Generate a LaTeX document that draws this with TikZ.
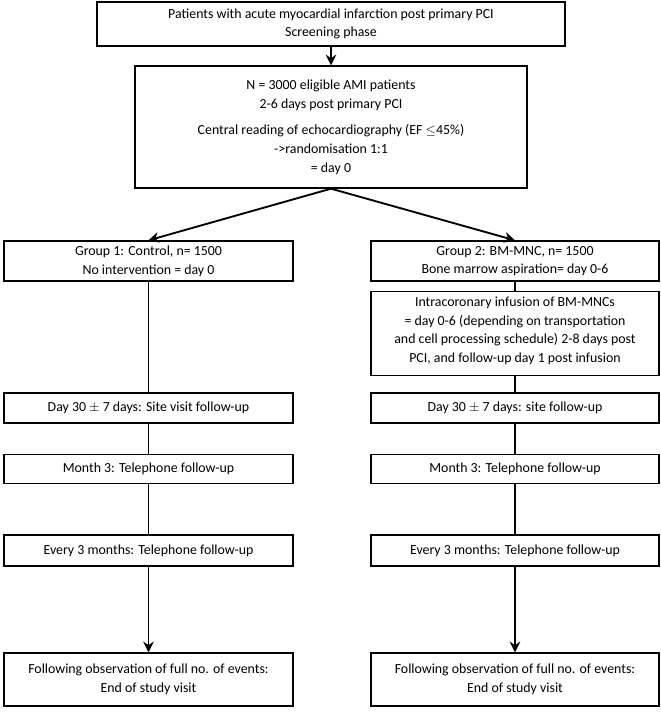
\documentclass[tikz,border=0pt]{standalone}
\usepackage{fontspec}
\setmainfont{Carlito}
\usetikzlibrary{arrows.meta}
\begin{document}
\begin{tikzpicture}[x=0.75pt,y=-0.75pt,
  box/.style={draw,line width=1pt,align=center,font=\fontsize{10.4}{14}\selectfont,inner sep=0pt},
  ln/.style={line width=1.4pt},
  ar/.style={line width=1.4pt,-{Stealth[length=8pt,width=8pt]}}]
\useasboundingbox (0,0) rectangle (661,715);
\node[box,minimum width=468*0.75pt,minimum height=44*0.75pt] (top) at (331,24) {Patients with acute myocardial infarction post primary PCI\\Screening phase};
\node[box,minimum width=392*0.75pt,minimum height=122*0.75pt] (n) at (331,127) {N = 3000 eligible AMI patients\\2-6 days post primary PCI\\[6pt]Central reading of echocardiography (EF $\le$45\%)\\->randomisation 1:1\\= day 0};
\node[box,minimum width=289*0.75pt,minimum height=40*0.75pt] (g1) at (148.5,261) {Group 1: Control, n= 1500\\No intervention = day 0};
\node[box,minimum width=288*0.75pt,minimum height=40*0.75pt] (g2) at (515,261) {Group 2: BM-MNC, n= 1500\\Bone marrow aspiration= day 0-6};
\node[box,minimum width=288*0.75pt,minimum height=84*0.75pt,anchor=north,text depth=6pt] (ic) at (515,291) {Intracoronary infusion of BM-MNCs\\= day 0-6 (depending on transportation\\and cell processing schedule) 2-8 days post\\PCI, and follow-up day 1 post infusion};
\node[box,minimum width=289*0.75pt,minimum height=30*0.75pt] (d1) at (148.5,408) {Day 30 $\pm$ 7 days: Site visit follow-up};
\node[box,minimum width=288*0.75pt,minimum height=30*0.75pt] (d2) at (515,408) {Day 30 $\pm$ 7 days: site follow-up};
\node[box,minimum width=289*0.75pt,minimum height=29*0.75pt] (m1) at (148.5,469) {Month 3: Telephone follow-up};
\node[box,minimum width=288*0.75pt,minimum height=29*0.75pt] (m2) at (515,469) {Month 3: Telephone follow-up};
\node[box,minimum width=289*0.75pt,minimum height=31*0.75pt] (e1) at (148.5,550.5) {Every 3 months: Telephone follow-up};
\node[box,minimum width=288*0.75pt,minimum height=31*0.75pt] (e2) at (515,550.5) {Every 3 months: Telephone follow-up};
\node[box,minimum width=289*0.75pt,minimum height=53*0.75pt] (f1) at (148.5,679.5) {Following observation of full no. of events:\\End of study visit};
\node[box,minimum width=288*0.75pt,minimum height=53*0.75pt] (f2) at (515,679.5) {Following observation of full no. of events:\\End of study visit};
\draw[ar] (top) -- (n);
\draw[ar] (n.south) -- (g1.north);
\draw[ar] (n.south) -- (g2.north);
\draw[ln] (g1) -- (d1);
\draw[ln] (g2) -- (ic);
\draw[ln] (ic) -- (d2);
\draw[ln] (d1) -- (m1);
\draw[ln] (d2) -- (m2);
\draw[ln] (m1) -- (e1);
\draw[ln] (m2) -- (e2);
\draw[ar] (e1) -- (f1);
\draw[ar] (e2) -- (f2);
\end{tikzpicture}
\end{document}
